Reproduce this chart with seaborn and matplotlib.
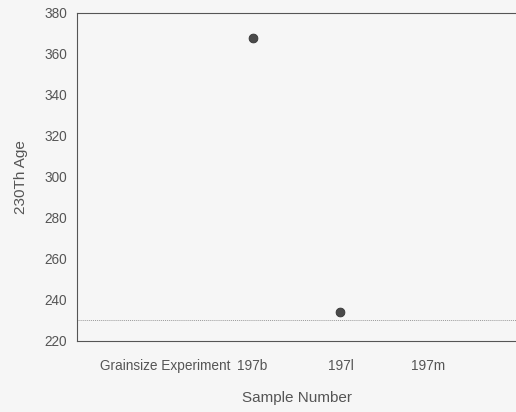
import matplotlib
matplotlib.use("Agg")
import matplotlib.pyplot as plt
import pandas as pd
import seaborn as sns

# datos
muestras = ["Grainsize Experiment", "197b", "197l", "197m"]
edades = [None, 368, 234, None]
linea_ref = 230

sns.set_style("white")
plt.rcParams["font.family"] = ["Liberation Sans", "DejaVu Sans"]

df = pd.DataFrame({"muestra": muestras, "edad": edades})
df["pos"] = range(len(muestras))

fig = plt.figure(figsize=(5.16, 4.12), dpi=100, facecolor="#f6f6f6")
ax = fig.add_axes([77 / 516, 71 / 412, 1 - 77 / 516, 328 / 412])
ax.set_facecolor("#f6f6f6")

sns.scatterplot(data=df.dropna(), x="pos", y="edad", ax=ax, color="#4a4a4a",
                s=40, edgecolor="#333333", linewidth=0.6, zorder=3)
ax.axhline(linea_ref, color="#9a9a9a", lw=0.7, ls=(0, (1, 1)))

ax.set_xlim(-1, 4)
ax.set_ylim(220, 380)
ax.set_yticks(range(220, 381, 20))
ax.set_xticks(df["pos"])
ax.set_xticklabels(muestras)

for s in ["top", "bottom", "left"]:
    ax.spines[s].set_color("#555555")
    ax.spines[s].set_linewidth(0.8)
ax.spines["right"].set_visible(False)

ax.tick_params(axis="both", direction="out", length=4, width=0.7,
               colors="#555555", labelsize=9.8, labelcolor="#555555", pad=3)
ax.tick_params(axis="x", pad=9)

ax.set_xlabel("Sample Number", fontsize=11, color="#555555", labelpad=13)
ax.set_ylabel("230Th Age", fontsize=11, color="#555555", labelpad=12)

fig.savefig("out.png", dpi=100, facecolor=fig.get_facecolor())
